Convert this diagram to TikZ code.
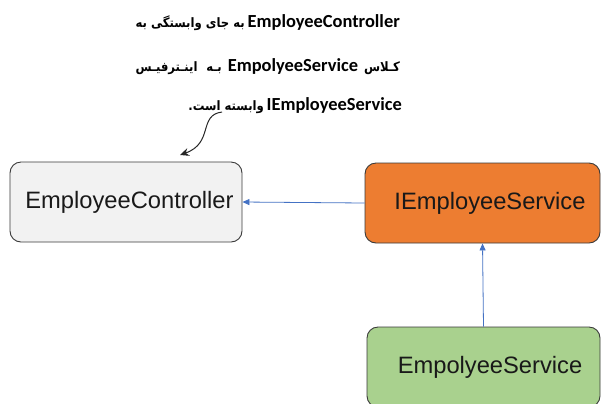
\documentclass[tikz,border=0pt]{standalone}
\usepackage{fontspec}
\setmainfont{Liberation Sans}
\newfontfamily\arfont[Script=Arabic]{DejaVu Sans Condensed}
\newfontfamily\latfont{Carlito}
\TeXXeTstate=1
\usetikzlibrary{arrows.meta}
\definecolor{boxgray}{HTML}{F2F2F2}
\definecolor{boxorange}{HTML}{ED7D31}
\definecolor{boxgreen}{HTML}{A9D18E}
\definecolor{linkblue}{HTML}{4472C4}
\definecolor{edgegray}{HTML}{3A3A3A}
\newcommand\latw[1]{\beginL{\latfont\bfseries\fontsize{18.5}{22}\selectfont #1}\endL}
\newcommand\arw[1]{{\arfont\bfseries\fontsize{13}{22}\selectfont #1}}
\newlength\firstlinewd
\tikzset{
  classbox/.style={draw=edgegray, line width=0.9bp, rounded corners=11bp,
    minimum width=232bp, minimum height=80bp, inner sep=0pt,
    font=\fontsize{23.8}{28}\selectfont, text=black!90},
  depline/.style={draw=linkblue, line width=0.8bp, -{Triangle[length=7bp,width=6bp]}},
  noteline/.style={draw=black!85, line width=1bp, -{Stealth[length=9bp,width=8bp]}},
  noteline1/.style={anchor=base east, inner sep=0pt}
}
\AtBeginDocument{\settowidth{\firstlinewd}{\beginR\latw{EmployeeController} \arw{به جای وابستگی به}\endR}}
\begin{document}
\begin{tikzpicture}[x=1bp,y=-1bp]
\useasboundingbox (0,0) rectangle (601,403);
\clip (0,0) rectangle (601,403);
\fill[white] (0,0) rectangle (601,403);

\node[noteline1] (l1) at (400,27) {\beginR\latw{EmployeeController} \arw{به جای وابستگی به}\endR};
\node[noteline1] (l2) at (400,71) {\makebox[\firstlinewd][s]{\beginR\arw{کـلاس} \latw{EmpolyeeService} \arw{بـه اینـترفیـس}\endR}};
\node[noteline1] (l3) at (402,110) {\beginR\latw{IEmployeeService} \arw{وابسته است.}\endR};

\node[classbox, fill=boxgray] (ctrl) at (126,202) {\hspace*{7bp}EmployeeController};
\node[classbox, fill=boxorange, minimum width=235bp] (iserv) at (482.5,203) {\hspace*{15bp}IEmployeeService};
\node[classbox, fill=boxgreen, minimum width=233bp] (serv) at (483.5,367) {\hspace*{13bp}EmpolyeeService};

\draw[depline] (iserv.west) -- (ctrl.east);
\draw[depline] (serv.north) -- (iserv.south);

\coordinate (ns) at (222,112);
\coordinate (ne) at (180,155);
\draw[noteline] (ns) .. controls (198,115) and (214,143) .. (ne);
\end{tikzpicture}
\end{document}
